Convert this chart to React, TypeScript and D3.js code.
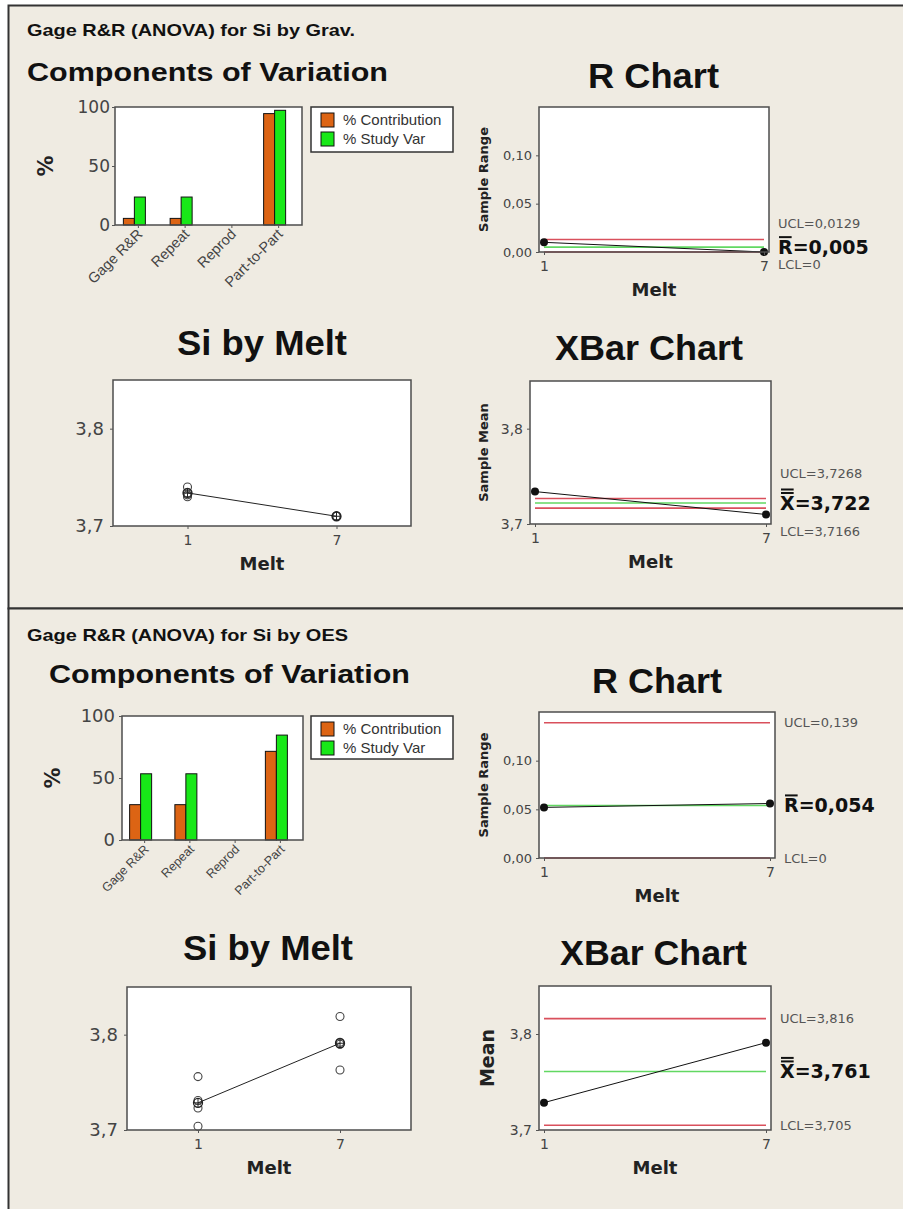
import React, { useEffect, useRef } from 'react';
import * as d3 from 'd3';

// Components of variation (percent)
const components = ['Gage R&R', 'Repeat', 'Reprod', 'Part-to-Part'];
const seriesKeys = ['% Contribution', '% Study Var'];
const gravContribution = [5.6, 5.6, 0, 94.4];
const gravStudyVar = [23.7, 23.7, 0, 97.2];
const oesContribution = [28.5, 28.5, 0, 71.5];
const oesStudyVar = [53.4, 53.4, 0, 84.6];
const percentTicks = [0, 50, 100];

// Si measurements per melt
const melts = [1, 7];
const gravSi = [[3.740, 3.734, 3.732, 3.730], [3.710, 3.710, 3.710, 3.710]];
const oesSi = [[3.756, 3.731, 3.723, 3.704], [3.819, 3.792, 3.790, 3.763]];
const siTicks = [3.7, 3.8];
const rangeTicks = [0, 0.05, 0.1];

// control limits: UCL, centre, LCL
const gravRLimits = [0.0129, 0.005, 0];
const gravRLabels = ['UCL=0,0129', 'R=0,005', 'LCL=0'];
const gravXLimits = [3.7268, 3.722, 3.7166];
const gravXLabels = ['UCL=3,7268', 'X=3,722', 'LCL=3,7166'];
const oesRLimits = [0.139, 0.054, 0];
const oesRLabels = ['UCL=0,139', 'R=0,054', 'LCL=0'];
const oesXLimits = [3.816, 3.761, 3.705];
const oesXLabels = ['UCL=3,816', 'X=3,761', 'LCL=3,705'];

const W = 903;
const H = 1209;
const SANS = '"Liberation Sans", Arial, sans-serif';
const TAHOMA = '"DejaVu Sans", Verdana, sans-serif';
const ORANGE = '#dc6414';
const GREEN = '#18e818';
const RED = '#d9505c';
const CLGREEN = '#62d862';

const locale = d3.formatLocale({ decimal: ',', thousands: '.', grouping: [3], currency: ['', ''] });

function title(g: any, text: string, x: number, y: number, size: number, len: number) {
    g.append('text')
        .attr('x', x).attr('y', y)
        .attr('font-family', SANS).attr('font-weight', 'bold').attr('font-size', size)
        .attr('fill', '#111')
        .attr('textLength', len).attr('lengthAdjust', 'spacingAndGlyphs')
        .text(text);
}

function plotBg(g: any, box: number[]) {
    g.append('rect')
        .attr('x', box[0]).attr('y', box[2])
        .attr('width', box[1] - box[0]).attr('height', box[3] - box[2])
        .attr('fill', '#fff');
}

function plotBorder(g: any, box: number[]) {
    g.append('rect')
        .attr('x', box[0]).attr('y', box[2])
        .attr('width', box[1] - box[0]).attr('height', box[3] - box[2])
        .attr('fill', 'none').attr('stroke', '#4d4d4d').attr('stroke-width', 1.5);
}

function yAxis(g: any, y: any, x0: number, ticks: number[], fmt: any, size: number, gap: number) {
    let ax = g.append('g')
        .attr('transform', `translate(${x0},0)`)
        .call(d3.axisLeft(y).tickValues(ticks).tickSize(3).tickPadding(gap - 3).tickFormat(fmt));
    ax.select('.domain').remove();
    ax.selectAll('line').attr('stroke', '#555');
    ax.selectAll('text').attr('font-family', TAHOMA).attr('font-size', size).attr('fill', '#444');
}

function xAxis(g: any, x: any, y0: number, size: number) {
    let ax = g.append('g')
        .attr('transform', `translate(0,${y0})`)
        .call(d3.axisBottom(x).tickValues(melts).tickSize(3).tickPadding(6).tickFormat(d3.format('d')));
    ax.select('.domain').remove();
    ax.selectAll('line').attr('stroke', '#555');
    ax.selectAll('text').attr('font-family', TAHOMA).attr('font-size', size).attr('fill', '#444');
}

function meltLabel(g: any, box: number[]) {
    g.append('text')
        .attr('x', (box[0] + box[1]) / 2).attr('y', box[3] + 44)
        .attr('text-anchor', 'middle')
        .attr('font-family', TAHOMA).attr('font-weight', 'bold').attr('font-size', 18)
        .attr('fill', '#222')
        .text('Melt');
}

function barChart(g: any, o: any) {
    let [x0, x1, y0, y1] = o.box;
    let x = d3.scaleBand().domain(components).range([x0, x1]);
    let y = d3.scaleLinear().domain([0, 100]).range([y1, y0]);
    let inner = d3.scaleBand().domain(seriesKeys).range([-15, 7]);
    let colour = d3.scaleOrdinal<string>().domain(seriesKeys).range([ORANGE, GREEN]);

    plotBg(g, o.box);

    let rows = components.map((c, i) => ({
        name: c,
        values: [
            { key: seriesKeys[0], v: o.contribution[i] },
            { key: seriesKeys[1], v: o.studyVar[i] },
        ],
    }));

    let groups = g.selectAll('.grp').data(rows).enter().append('g')
        .attr('transform', (d: any) => `translate(${x(d.name)! + x.bandwidth() / 2},0)`);

    groups.selectAll('rect').data((d: any) => d.values.filter((v: any) => v.v > 0))
        .enter().append('rect')
        .attr('x', (d: any) => inner(d.key))
        .attr('width', inner.bandwidth())
        .attr('y', (d: any) => y(d.v))
        .attr('height', (d: any) => y(0) - y(d.v))
        .attr('fill', (d: any) => colour(d.key))
        .attr('stroke', '#111').attr('stroke-width', 1);

    plotBorder(g, o.box);

    yAxis(g, y, x0, percentTicks, d3.format('d'), o.tickSize, o.tickGap);

    // category ticks and rotated labels
    let cats = g.selectAll('.cat').data(components).enter().append('g')
        .attr('transform', (d: string) => `translate(${x(d)! + x.bandwidth() / 2},${y1})`);
    cats.append('line').attr('y1', 0).attr('y2', 3).attr('stroke', '#555');
    cats.append('text')
        .attr('transform', `translate(5,10) rotate(-45)`)
        .attr('text-anchor', 'end')
        .attr('font-family', SANS).attr('font-size', o.catSize)
        .attr('fill', '#444')
        .text((d: string) => d);

    g.append('text')
        .attr('transform', `translate(${o.pctX},${(y0 + y1) / 2}) rotate(-90)`)
        .attr('text-anchor', 'middle')
        .attr('font-family', TAHOMA).attr('font-weight', 'bold').attr('font-size', 21)
        .attr('fill', '#222')
        .text('%');

    // legend
    let [lx0, lx1, ly0, ly1] = o.legend;
    g.append('rect')
        .attr('x', lx0).attr('y', ly0).attr('width', lx1 - lx0).attr('height', ly1 - ly0)
        .attr('fill', '#fff').attr('stroke', '#333').attr('stroke-width', 1.5);
    let items = g.selectAll('.leg').data(seriesKeys).enter().append('g')
        .attr('transform', (d: string, i: number) => `translate(${lx0},${ly0 + i * 19})`);
    items.append('rect')
        .attr('x', 10).attr('y', 6).attr('width', 13).attr('height', 14)
        .attr('fill', (d: string) => colour(d)).attr('stroke', '#111');
    items.append('text')
        .attr('x', 32).attr('y', 17.5)
        .attr('font-family', SANS).attr('font-size', 15).attr('fill', '#333')
        .text((d: string) => d);
}

function siChart(g: any, o: any) {
    let [x0, x1, y0, y1] = o.box;
    let x = d3.scaleLinear().domain([-2, 10]).range([x0, x1]);
    let y = d3.scaleLinear().domain([3.7, 3.85]).range([y1, y0]);

    plotBg(g, o.box);

    let points = o.data.flatMap((vals: number[], i: number) => vals.map((v) => ({ melt: melts[i], v })));
    let means = o.data.map((vals: number[], i: number) => ({ melt: melts[i], v: d3.mean(vals)! }));

    g.selectAll('.obs').data(points).enter().append('circle')
        .attr('cx', (d: any) => x(d.melt)).attr('cy', (d: any) => y(d.v)).attr('r', 4)
        .attr('fill', 'none').attr('stroke', '#444').attr('stroke-width', 1.1);

    let line = d3.line<any>().x((d) => x(d.melt)).y((d) => y(d.v));
    g.append('path').attr('d', line(means)).attr('fill', 'none').attr('stroke', '#222').attr('stroke-width', 1);

    let m = g.selectAll('.mean').data(means).enter().append('g')
        .attr('transform', (d: any) => `translate(${x(d.melt)},${y(d.v)})`);
    m.append('circle').attr('r', 4.5).attr('fill', 'none').attr('stroke', '#222').attr('stroke-width', 1.3);
    m.append('path').attr('d', 'M-4.5,0H4.5M0,-4.5V4.5').attr('stroke', '#222').attr('stroke-width', 1);

    plotBorder(g, o.box);
    yAxis(g, y, x0, siTicks, locale.format('.1f'), o.tickSize, 9);
    xAxis(g, x, y1, 14);
    meltLabel(g, o.box);
}

function controlChart(g: any, o: any) {
    let [x0, x1, y0, y1] = o.box;
    let x = d3.scaleLinear().domain([1, 7]).range([x0 + 5, x1 - 5]);
    let y = d3.scaleLinear().domain(o.domain).range([y1, y0]);

    plotBg(g, o.box);

    let limitColour = [RED, CLGREEN, RED];
    g.selectAll('.limit').data(o.limits).enter().append('line')
        .attr('x1', x(1)).attr('x2', x(7))
        .attr('y1', (d: number) => y(d)).attr('y2', (d: number) => y(d))
        .attr('stroke', (d: number, i: number) => limitColour[i]).attr('stroke-width', 1.6);

    let pts = o.values.map((v: number, i: number) => ({ melt: melts[i], v }));
    let line = d3.line<any>().x((d) => x(d.melt)).y((d) => y(d.v));
    g.append('path').attr('d', line(pts)).attr('fill', 'none').attr('stroke', '#111').attr('stroke-width', 1);
    g.selectAll('.pt').data(pts).enter().append('circle')
        .attr('cx', (d: any) => x(d.melt)).attr('cy', (d: any) => y(d.v)).attr('r', 4)
        .attr('fill', '#111');

    plotBorder(g, o.box);
    yAxis(g, y, x0, o.ticks, o.fmt, o.tickSize, 7);
    xAxis(g, x, y1, 14);
    meltLabel(g, o.box);

    g.append('text')
        .attr('transform', `translate(${o.yLabelX},${(y0 + y1) / 2}) rotate(-90)`)
        .attr('text-anchor', 'middle')
        .attr('font-family', TAHOMA).attr('font-weight', 'bold').attr('font-size', o.yLabelSize)
        .attr('fill', '#222')
        .text(o.yLabel);

    // limit labels, pushed apart when they crowd
    let yc = y(o.limits[1]);
    let yu = Math.min(y(o.limits[0]), yc - o.gapAbove);
    let yl = Math.max(y(o.limits[2]), yc + o.gapBelow);
    let lx = x1 + 9;
    [[o.labels[0], yu], [o.labels[2], yl]].forEach(([t, yy]: any) => {
        g.append('text')
            .attr('x', lx).attr('y', yy).attr('dy', '0.35em')
            .attr('font-family', TAHOMA).attr('font-size', 13).attr('fill', '#555')
            .text(t);
    });
    let fs = 19;
    let c = g.append('text')
        .attr('x', lx).attr('y', yc).attr('dy', '0.36em')
        .attr('font-family', TAHOMA).attr('font-weight', 'bold').attr('font-size', fs)
        .attr('fill', '#111')
        .text(o.labels[1]);
    let w = 13;
    try { w = c.node().getSubStringLength(0, 1); } catch (e) { /* keep default */ }
    let top = yc + 0.36 * fs - 0.73 * fs;
    let bars = o.symbol === 'X' ? [3, 6.5] : [3];
    bars.forEach((b) => {
        g.append('line')
            .attr('x1', lx + 1).attr('x2', lx + w - 1)
            .attr('y1', top - b).attr('y2', top - b)
            .attr('stroke', '#111').attr('stroke-width', 2);
    });
}

function draw(svg: any) {
    // panels
    svg.append('rect').attr('x', 8.5).attr('y', 5.5).attr('width', 900).attr('height', 603)
        .attr('fill', '#efebe2').attr('stroke', '#333').attr('stroke-width', 2);
    svg.append('rect').attr('x', 8.5).attr('y', 608.5).attr('width', 900).attr('height', 606)
        .attr('fill', '#efebe2').attr('stroke', '#333').attr('stroke-width', 2);

    let rangeFmt = locale.format('.2f');
    let meanFmt = locale.format('.1f');

    // ---- Grav. ----
    title(svg, 'Gage R&R (ANOVA) for Si by Grav.', 27, 36, 17, 328);
    title(svg, 'Components of Variation', 27, 81, 26, 361);
    barChart(svg.append('g'), {
        box: [115, 302, 107, 225], contribution: gravContribution, studyVar: gravStudyVar,
        tickSize: 17, tickGap: 5, catSize: 14.5, legend: [311, 453, 107, 152], pctX: 53,
    });
    title(svg, 'R Chart', 588, 88, 35, 131);
    controlChart(svg.append('g'), {
        box: [539, 769, 107, 252], domain: [0, 0.15], ticks: rangeTicks, fmt: rangeFmt, tickSize: 13,
        values: gravSi.map((d) => d3.max(d)! - d3.min(d)!),
        limits: gravRLimits, labels: gravRLabels, symbol: 'R',
        yLabel: 'Sample Range', yLabelSize: 13, yLabelX: 488, gapAbove: 24, gapBelow: 17,
    });
    title(svg, 'Si by Melt', 177, 355, 35, 170);
    siChart(svg.append('g'), { box: [113, 411, 380, 526], data: gravSi, tickSize: 18 });
    title(svg, 'XBar Chart', 555, 360, 35, 188);
    controlChart(svg.append('g'), {
        box: [530, 771, 381, 524], domain: [3.7, 3.85], ticks: siTicks, fmt: meanFmt, tickSize: 14,
        values: gravSi.map((d) => d3.mean(d)!),
        limits: gravXLimits, labels: gravXLabels, symbol: 'X',
        yLabel: 'Sample Mean', yLabelSize: 13, yLabelX: 488, gapAbove: 30, gapBelow: 28,
    });

    // ---- OES ----
    title(svg, 'Gage R&R (ANOVA) for Si by OES', 27, 641, 17, 321);
    title(svg, 'Components of Variation', 49, 683, 26, 361);
    barChart(svg.append('g'), {
        box: [122, 303, 716, 840], contribution: oesContribution, studyVar: oesStudyVar,
        tickSize: 18, tickGap: 7, catSize: 12.5, legend: [311, 453, 716, 759], pctX: 60,
    });
    title(svg, 'R Chart', 592, 693, 35, 130);
    controlChart(svg.append('g'), {
        box: [539, 775, 712, 858], domain: [0, 0.15], ticks: rangeTicks, fmt: rangeFmt, tickSize: 13,
        values: oesSi.map((d) => d3.max(d)! - d3.min(d)!),
        limits: oesRLimits, labels: oesRLabels, symbol: 'R',
        yLabel: 'Sample Range', yLabelSize: 13, yLabelX: 488, gapAbove: 24, gapBelow: 17,
    });
    title(svg, 'Si by Melt', 183, 960, 35, 170);
    siChart(svg.append('g'), { box: [127, 411, 987, 1130], data: oesSi, tickSize: 18 });
    title(svg, 'XBar Chart', 560, 965, 35, 187);
    controlChart(svg.append('g'), {
        box: [539, 771, 986, 1130], domain: [3.7, 3.85], ticks: siTicks, fmt: meanFmt, tickSize: 14,
        values: oesSi.map((d) => d3.mean(d)!),
        limits: oesXLimits, labels: oesXLabels, symbol: 'X',
        yLabel: 'Mean', yLabelSize: 19, yLabelX: 494, gapAbove: 30, gapBelow: 28,
    });
}

export default function App() {
    const ref = useRef<SVGSVGElement>(null);

    useEffect(() => {
        let svg = d3.select(ref.current);
        svg.selectAll('*').remove();
        draw(svg);
    }, []);

    return (
        <svg ref={ref} width={W} height={H}
            style={{ position: 'absolute', left: 0, top: 0, display: 'block', background: '#fff' }} />
    );
}
